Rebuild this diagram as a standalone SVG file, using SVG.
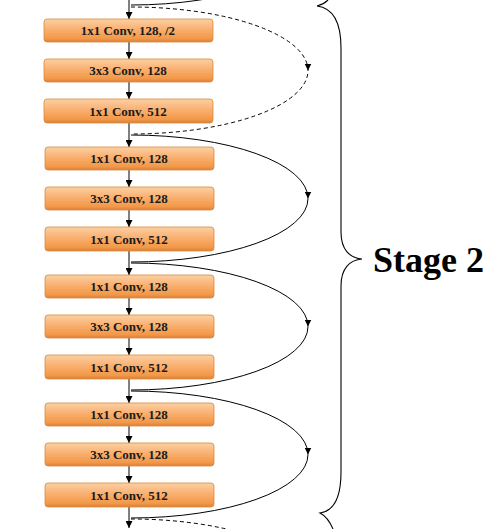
<svg xmlns="http://www.w3.org/2000/svg" width="491" height="529" viewBox="0 0 491 529">
<style>
.box{fill:url(#og);stroke:#d98a3e;stroke-width:0.8}
.lbl{font-family:"Liberation Serif","Times New Roman",serif;font-weight:bold;font-size:13px;fill:#1a1a1a;text-anchor:middle}
.v{stroke:#000;stroke-width:1;fill:none;marker-end:url(#ah)}
.sc{stroke:#000;stroke-width:1;fill:none;marker-mid:url(#ah)}
.dash{stroke-dasharray:4,3}
.brace{stroke:#000;stroke-width:1.1;fill:none}
.stage{font-family:"Liberation Serif","Times New Roman",serif;font-weight:bold;font-size:36px;fill:#000}
</style>
<defs>
<linearGradient id="og" x1="0" y1="0" x2="0" y2="1">
<stop offset="0" stop-color="#fcd0a4"/>
<stop offset="0.45" stop-color="#f9b070"/>
<stop offset="0.85" stop-color="#f29848"/>
<stop offset="1" stop-color="#d9803a"/>
</linearGradient>
<marker id="ah" viewBox="0 0 10 10" refX="10" refY="5" markerWidth="7" markerHeight="7" markerUnits="userSpaceOnUse" orient="auto">
<path d="M0,0 L10,5 L0,10 z" fill="#000"/>
</marker>
</defs>
<rect width="491" height="529" fill="#fff"/>
<g id="connectors">
<line class="v" x1="129" y1="0" x2="129" y2="19"/>
<line class="v" x1="129" y1="42" x2="129" y2="59"/>
<line class="v" x1="129" y1="82" x2="129" y2="99"/>
<line class="v" x1="129" y1="123" x2="129" y2="147"/>
<line class="v" x1="129" y1="170" x2="129" y2="187"/>
<line class="v" x1="129" y1="210" x2="129" y2="227"/>
<line class="v" x1="129" y1="251" x2="129" y2="275"/>
<line class="v" x1="129" y1="298" x2="129" y2="315"/>
<line class="v" x1="129" y1="338" x2="129" y2="355"/>
<line class="v" x1="129" y1="379" x2="129" y2="403"/>
<line class="v" x1="129" y1="426" x2="129" y2="443"/>
<line class="v" x1="129" y1="466" x2="129" y2="483"/>
<line class="v" x1="129" y1="507" x2="129" y2="528"/>
<path class="sc" d="M131,-122 A177,63.5 0 0 1 308,-58.5 A177,63.5 0 0 1 131,5"/>
<path class="sc dash" d="M131,7 A177,63.5 0 0 1 308,70.5 A177,63.5 0 0 1 131,134"/>
<path class="sc" d="M131,135 A177,63.5 0 0 1 308,198.5 A177,63.5 0 0 1 131,262"/>
<path class="sc" d="M131,263 A177,63.5 0 0 1 308,326.5 A177,63.5 0 0 1 131,390"/>
<path class="sc" d="M131,391 A177,63.5 0 0 1 308,454.5 A177,63.5 0 0 1 131,518"/>
<path class="sc dash" d="M131,519 A177,63.5 0 0 1 308,582.5"/>
</g>
<g id="n1"><rect class="box" x="44" y="19" width="169" height="23" rx="3"/><text class="lbl" x="128" y="35">1x1 Conv, 128, /2</text></g>
<g id="n2"><rect class="box" x="44" y="59" width="169" height="23" rx="3"/><text class="lbl" x="128" y="75">3x3 Conv, 128</text></g>
<g id="n3"><rect class="box" x="44" y="99" width="169" height="24" rx="3"/><text class="lbl" x="128" y="115.5">1x1 Conv, 512</text></g>
<g id="n4"><rect class="box" x="45" y="147" width="169" height="23" rx="3"/><text class="lbl" x="129" y="163">1x1 Conv, 128</text></g>
<g id="n5"><rect class="box" x="45" y="187" width="169" height="23" rx="3"/><text class="lbl" x="129" y="203">3x3 Conv, 128</text></g>
<g id="n6"><rect class="box" x="45" y="227" width="169" height="24" rx="3"/><text class="lbl" x="129" y="243.5">1x1 Conv, 512</text></g>
<g id="n7"><rect class="box" x="45" y="275" width="169" height="23" rx="3"/><text class="lbl" x="129" y="291">1x1 Conv, 128</text></g>
<g id="n8"><rect class="box" x="45" y="315" width="169" height="23" rx="3"/><text class="lbl" x="129" y="331">3x3 Conv, 128</text></g>
<g id="n9"><rect class="box" x="45" y="355" width="169" height="24" rx="3"/><text class="lbl" x="129" y="371.5">1x1 Conv, 512</text></g>
<g id="n10"><rect class="box" x="45" y="403" width="169" height="23" rx="3"/><text class="lbl" x="129" y="419">1x1 Conv, 128</text></g>
<g id="n11"><rect class="box" x="45" y="443" width="169" height="23" rx="3"/><text class="lbl" x="129" y="459">3x3 Conv, 128</text></g>
<g id="n12"><rect class="box" x="45" y="483" width="169" height="24" rx="3"/><text class="lbl" x="129" y="499.5">1x1 Conv, 512</text></g>
<g id="stage2">
<path class="brace" d="M328,0 C325,3 321,5 317,6 C333,8 341,22 341,48 L341,232 C341,250 350,258 362,259 C350,260 341,268 341,286 L341,472 C341,496 334,511 320,513 C326,516 330,522 333,529"/>
<text class="stage" x="373" y="272">Stage 2</text>
</g>
</svg>
